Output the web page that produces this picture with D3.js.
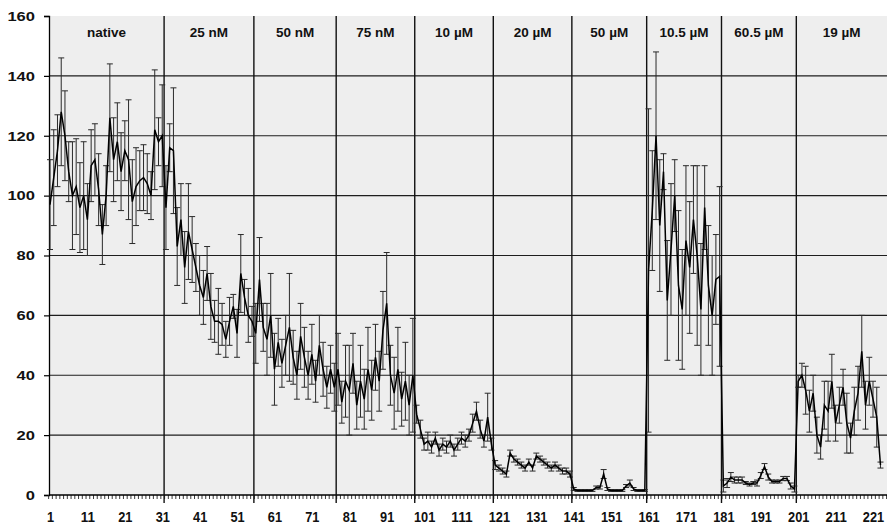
<!DOCTYPE html>
<html>
<head>
<meta charset="utf-8">
<script src="https://cdn.jsdelivr.net/npm/d3@7"></script>
<style>
  body { margin: 0; background: #fff; }
  svg { display: block; }
  text { font-family: "Liberation Sans", Arial, sans-serif; font-weight: bold; fill: #111; }
</style>
</head>
<body>
<svg id="chart" width="887" height="528"></svg>
<script>
// Mean response per measurement, grouped by condition, with standard deviations
const nativeMean = [97,106,115,128,120,108,100,103,96,100,92,110,112,102,87,100,126,112,118,108,115,112,98,103,105,106,104,100,122,118,120];
const nativeSd   = [15,16,12,18,15,10,18,16,15,18,12,12,12,12,10,10,18,14,13,13,10,20,14,13,10,11,10,8,20,8,17];

const nM25Mean = [96,116,115,83,92,76,88,82,76,70,66,74,63,58,58,57,52,58,63,54,74,66,60,58];
const nM25Sd   = [14,8,21,13,12,12,16,11,8,10,9,9,11,7,11,7,6,8,4,8,13,6,9,5];

const nM50Mean = [54,72,56,52,60,42,51,44,50,56,46,40,53,46,40,47,38,50,42,36,42,36];
const nM50Sd   = [10,14,8,12,14,12,8,8,10,18,9,8,11,10,8,10,7,10,9,7,8,8];

const nM75Mean = [42,31,38,35,44,30,38,32,42,35,46,38,55,64,40,34,42,32,38,30,40];
const nM75Sd   = [12,7,12,15,10,8,12,10,14,10,11,10,13,17,10,12,14,9,13,10,19];

const uM10Mean = [27,22,17,18,16,19,15,17,16,18,15,17,19,18,20,24,28,22,18,26,17];
const uM10Sd   = [3,3,2,3,2,2,2,2,2,2,2,2,2,2,2,3,3,3,2,8,2];

const uM20Mean = [10,9,8,7,14,12,11,10,9,11,9,13,12,11,10,9,10,9,8,8,7];
const uM20Sd   = [1.5,1,1,1,1,1,1,1,1,1,1,1,1,1,1,1,1,1,1,1,1];

const uM50Mean = [2,1.5,1.5,1.5,1.5,1.5,2.5,2.5,7,2,1.5,1.5,1.5,1.5,3,4,2,1.5,1.5,1.5];
const uM50Sd   = [0.5,0.3,0.3,0.3,0.3,0.3,0.5,0.5,1.5,0.5,0.3,0.3,0.3,0.3,0.5,1,0.5,0.3,0.3,0.3];

const uM10_5Mean = [75,95,120,90,108,65,82,100,70,62,85,76,92,80,62,96,70,60,72,73];
const uM10_5Sd   = [54,20,28,22,6,20,22,12,25,20,25,22,18,30,22,14,20,20,15,30];

const uM60_5Mean = [3,4,6,5,5,5,4,3.5,4,4,6.5,9.5,6,4.5,4.5,4.5,5.5,5.5,3,2];
const uM60_5Sd   = [2,1.5,1.5,1,1,1,0.5,0.5,0.5,1,1,1,1,0.5,0.5,0.5,0.7,0.7,1,1];

const uM19Mean = [38,40,35,28,34,20,16,30,28,38,24,30,36,24,19,28,34,48,30,38,32,26,10];
const uM19Sd   = [2,4,8,7,6,6,4,8,10,9,6,6,6,10,5,8,9,12,8,8,6,10,1];

// Condition names and the category boundaries between them
const segmentNames = ["native","25 nM","50 nM","75 nM","10 µM","20 µM","50 µM","10.5 µM","60.5 µM","19 µM"];
const segmentEdges = [31.5,55.5,77.5,98.5,119.5,140.5,160.5,180.5,200.5];

const xTickLabels = [1,11,21,31,41,51,61,71,81,91,101,111,121,131,141,151,161,171,181,191,201,211,221];
const yTickValues = [0,20,40,60,80,100,120,140,160];

const means = [].concat(nativeMean, nM25Mean, nM50Mean, nM75Mean, uM10Mean, uM20Mean, uM50Mean, uM10_5Mean, uM60_5Mean, uM19Mean);
const sds   = [].concat(nativeSd, nM25Sd, nM50Sd, nM75Sd, uM10Sd, uM20Sd, uM50Sd, uM10_5Sd, uM60_5Sd, uM19Sd);
const points = means.map((v, k) => ({ idx: k + 1, v: v, sd: sds[k] }));

const plotLeft = 49, plotRight = 887, plotTop = 16, plotBottom = 495;

const svg = d3.select("#chart");
const x = d3.scaleLinear().domain([1, 221]).range([50, 873]);
const y = d3.scaleLinear().domain([0, 160]).range([plotBottom, plotTop]);

// plot area background
svg.append("rect")
  .attr("x", plotLeft).attr("y", plotTop)
  .attr("width", plotRight - plotLeft).attr("height", plotBottom - plotTop)
  .attr("fill", "#eeeeee");

// horizontal gridlines
svg.append("g").selectAll("line")
  .data(yTickValues.filter(v => v > 0 && v < 160))
  .join("line")
  .attr("x1", plotLeft).attr("x2", plotRight)
  .attr("y1", d => y(d)).attr("y2", d => y(d))
  .attr("stroke", "#1e1e1e").attr("stroke-width", 1.2);

// y axis
const yAxis = svg.append("g")
  .attr("transform", `translate(${plotLeft},0)`)
  .call(d3.axisLeft(y).tickValues(yTickValues).tickSize(5).tickPadding(9).tickFormat(d3.format("d")));
yAxis.select(".domain").attr("stroke", "#000").attr("stroke-width", 1.3);
yAxis.selectAll(".tick line").attr("stroke", "#000").attr("stroke-width", 1.2);
yAxis.selectAll(".tick text")
  .attr("font-size", 13.5)
  .attr("font-family", "Liberation Sans, Arial, sans-serif")
  .attr("font-weight", "bold")
  .attr("fill", "#111")
  .attr("textLength", d => String(d).length * 9.2)
  .attr("lengthAdjust", "spacingAndGlyphs");

// x axis: a minor tick between each pair of categories
const xMinor = svg.append("g")
  .attr("transform", `translate(0,${plotBottom})`)
  .call(d3.axisBottom(x).tickValues(d3.range(0.5, 225, 1)).tickSize(4).tickFormat(""));
xMinor.select(".domain").remove();
xMinor.selectAll(".tick line").attr("stroke", "#222").attr("stroke-width", 0.9);

svg.append("line")
  .attr("x1", plotLeft).attr("x2", plotRight)
  .attr("y1", plotBottom).attr("y2", plotBottom)
  .attr("stroke", "#000").attr("stroke-width", 1.4);

// x labels every tenth category
const xLab = svg.append("g")
  .attr("transform", `translate(0,${plotBottom})`)
  .call(d3.axisBottom(x).tickValues(xTickLabels).tickSize(0).tickPadding(16).tickFormat(d3.format("d")));
xLab.select(".domain").remove();
xLab.selectAll(".tick text")
  .attr("font-size", 15)
  .attr("font-family", "Liberation Sans, Arial, sans-serif")
  .attr("font-weight", "bold")
  .attr("fill", "#111")
  .attr("textLength", d => String(d).length * 7.1)
  .attr("lengthAdjust", "spacingAndGlyphs");

// condition separators
svg.append("g").selectAll("line")
  .data(segmentEdges)
  .join("line")
  .attr("x1", d => x(d)).attr("x2", d => x(d))
  .attr("y1", plotTop).attr("y2", plotBottom + 8)
  .attr("stroke", "#111").attr("stroke-width", 1.4);

// condition labels, centred in each band
const bandStarts = [x.invert(plotLeft)].concat(segmentEdges);
const bandEnds = segmentEdges.concat([x.invert(plotRight)]);
svg.append("g").selectAll("text")
  .data(segmentNames)
  .join("text")
  .attr("x", (d, k) => (x(bandStarts[k]) + x(bandEnds[k])) / 2)
  .attr("y", 36.5)
  .attr("text-anchor", "middle")
  .attr("font-size", 13.5)
  .text(d => d);

// error bars with caps
const eb = svg.append("g").attr("stroke", "#2a2a2a").attr("stroke-width", 1);
const capHalf = 3;
eb.selectAll("line.stem")
  .data(points)
  .join("line")
  .attr("class", "stem")
  .attr("x1", d => x(d.idx)).attr("x2", d => x(d.idx))
  .attr("y1", d => y(Math.max(0, d.v - d.sd))).attr("y2", d => y(d.v + d.sd));
eb.selectAll("line.capHi")
  .data(points)
  .join("line")
  .attr("class", "capHi")
  .attr("x1", d => x(d.idx) - capHalf).attr("x2", d => x(d.idx) + capHalf)
  .attr("y1", d => y(d.v + d.sd)).attr("y2", d => y(d.v + d.sd));
eb.selectAll("line.capLo")
  .data(points)
  .join("line")
  .attr("class", "capLo")
  .attr("x1", d => x(d.idx) - capHalf).attr("x2", d => x(d.idx) + capHalf)
  .attr("y1", d => y(Math.max(0, d.v - d.sd))).attr("y2", d => y(Math.max(0, d.v - d.sd)));

// mean trace
svg.append("path")
  .datum(points)
  .attr("fill", "none")
  .attr("stroke", "#000")
  .attr("stroke-width", 1.5)
  .attr("stroke-linejoin", "miter")
  .attr("d", d3.line().x(d => x(d.idx)).y(d => y(d.v)));
</script>
</body>
</html>
